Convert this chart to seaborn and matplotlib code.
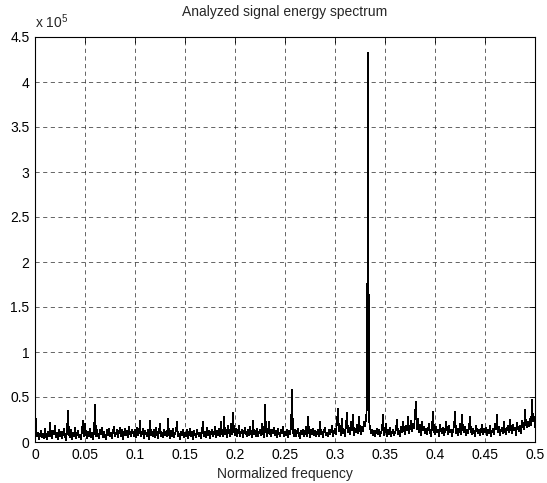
import numpy as np
import pandas as pd
import matplotlib
matplotlib.use("Agg")
import matplotlib.pyplot as plt
import seaborn as sns
from matplotlib.ticker import FuncFormatter

# Spectrum values, in thousands, step 0.001 of normalized frequency
seg_000 = [49, 14, 6, 10, 3, 8, 12, 5, 9, 4, 15, 7, 3, 11, 6, 21, 8, 4, 12, 9, 18, 5, 10, 3, 13,
           7, 11, 4, 9, 15, 6, 2, 12, 35, 8, 5, 14, 3, 10, 7, 16, 4, 9, 12, 5, 8, 3, 13, 24, 6]
seg_050 = [20, 9, 4, 11, 7, 15, 5, 10, 3, 12, 41, 6, 13, 8, 4, 14, 9, 16, 5, 11, 7, 3, 13, 8, 15,
           6, 10, 4, 12, 17, 7, 9, 14, 5, 11, 16, 6, 13, 3, 10, 15, 8, 12, 5, 17, 9, 6, 14, 11, 7]
seg_100 = [13, 5, 16, 8, 11, 24, 6, 10, 15, 4, 12, 9, 7, 14, 3, 24, 8, 11, 6, 13, 5, 16, 9, 4, 12,
           20, 7, 10, 5, 14, 8, 11, 6, 26, 9, 4, 12, 7, 15, 5, 10, 13, 22, 6, 9, 3, 11, 8, 14, 5]
seg_150 = [10, 7, 13, 4, 9, 15, 6, 11, 3, 12, 8, 5, 14, 9, 6, 10, 4, 13, 22, 7, 11, 5, 16, 8, 12,
           4, 10, 14, 6, 9, 17, 5, 12, 8, 15, 7, 22, 10, 6, 28, 9, 13, 5, 18, 11, 7, 20, 9, 32, 12]
seg_200 = [8, 15, 6, 12, 18, 7, 10, 14, 5, 11, 16, 9, 6, 13, 8, 17, 10, 5, 24, 9, 12, 7, 15, 6, 11,
           14, 8, 20, 10, 5, 41, 13, 7, 11, 22, 9, 6, 14, 10, 16, 8, 12, 5, 15, 9, 7, 13, 10, 17, 6]
seg_250 = [11, 8, 14, 5, 12, 9, 16, 58, 10, 7, 13, 6, 11, 15, 8, 4, 12, 9, 14, 6, 10, 17, 7, 28, 11,
           5, 13, 9, 15, 8, 12, 6, 10, 14, 7, 22, 9, 11, 5, 13, 16, 8, 10, 6, 14, 9, 12, 18, 7, 11]
seg_300 = [15, 9, 24, 37, 12, 18, 8, 26, 10, 14, 7, 20, 32, 11, 16, 9, 22, 13, 30, 8, 15, 11, 19, 10, 28,
           14, 9, 17, 12, 22, 18, 26, 39, 432, 24, 16, 10, 14, 8, 12, 6, 11, 15, 9, 13, 7, 10, 14, 30, 8]
seg_350 = [12, 20, 7, 13, 9, 16, 6, 11, 14, 8, 10, 15, 25, 9, 12, 7, 17, 11, 22, 14, 9, 18, 13, 28, 10,
           16, 24, 12, 20, 15, 31, 45, 14, 26, 11, 19, 8, 22, 13, 17, 10, 15, 9, 14, 20, 11, 7, 16, 34, 12]
seg_400 = [9, 17, 11, 14, 7, 19, 13, 10, 16, 8, 12, 22, 15, 9, 18, 11, 14, 7, 13, 17, 34, 10, 15, 8, 12,
           20, 9, 30, 14, 11, 17, 8, 13, 10, 16, 28, 12, 9, 15, 11, 7, 18, 13, 10, 14, 8, 12, 19, 9, 15]
seg_450 = [11, 16, 8, 13, 10, 18, 7, 12, 15, 9, 20, 14, 30, 11, 17, 8, 13, 16, 10, 22, 12, 9, 15, 18, 11,
           25, 14, 10, 19, 13, 16, 8, 21, 15, 12, 18, 10, 24, 17, 14, 36, 20, 16, 22, 18, 26, 19, 47, 23, 28, 17]

energy_k = (seg_000 + seg_050 + seg_100 + seg_150 + seg_200 + seg_250 +
            seg_300 + seg_350 + seg_400 + seg_450)
freq = np.arange(len(energy_k)) * 0.001

x_ticks = [0, 0.05, 0.1, 0.15, 0.2, 0.25, 0.3, 0.35, 0.4, 0.45, 0.5]
y_ticks = [0, 0.5, 1, 1.5, 2, 2.5, 3, 3.5, 4, 4.5]

df = pd.DataFrame({"freq": freq, "energy": np.array(energy_k) / 100.0})  # units of 1e5

sns.set_theme(style="white")
plt.rcParams["font.family"] = ["Liberation Sans", "DejaVu Sans"]
plt.rcParams["mathtext.default"] = "regular"

fig = plt.figure(figsize=(5.47, 4.83), dpi=100)
ax = fig.add_axes([35 / 547, 1 - 442 / 483, 500 / 547, 405 / 483])

sns.lineplot(data=df, x="freq", y="energy", ax=ax, color="black", linewidth=0.5,
             antialiased=False)

ax.set_xlim(0, 0.5)
ax.set_ylim(0, 4.5)
ax.set_xticks(x_ticks)
ax.set_yticks(y_ticks)
fmt = FuncFormatter(lambda v, p: "%g" % v)
ax.xaxis.set_major_formatter(fmt)
ax.yaxis.set_major_formatter(fmt)

ax.grid(True, color="black", linestyle=(0, (6, 5)), linewidth=0.5, alpha=0.85)
ax.tick_params(direction="in", length=4, width=0.6, top=True, right=True,
               labelsize=10, colors="black", pad=4)
for s in ax.spines.values():
    s.set_color("black")
    s.set_linewidth(0.8)

ax.set_xlabel("Normalized frequency", fontsize=10, labelpad=4)
ax.set_ylabel("")
ax.set_title("Analyzed signal energy spectrum", fontsize=10, pad=15)
ax.text(0.0, 1.015, "x 10$^{5}$", transform=ax.transAxes, fontsize=10,
        ha="left", va="bottom")

fig.savefig("out.png", dpi=100)
